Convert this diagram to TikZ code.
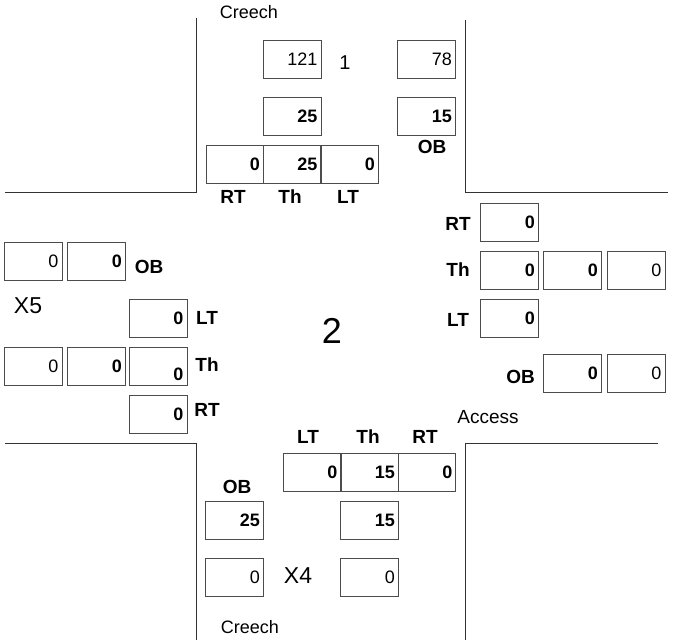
\documentclass[tikz,border=0pt]{standalone}
\usepackage{fontspec}
\setmainfont{Liberation Sans}
\usepackage{tikz}

\tikzset{
  cnt/.style={draw=black!70, line width=0.7pt, minimum width=58pt, minimum height=38pt,
    inner sep=0pt, text width=51pt, align=right, font=\fontsize{18}{18}\selectfont},
  bcnt/.style={cnt, font=\fontsize{18}{18}\selectfont\bfseries},
  lbl/.style={font=\fontsize{19}{19}\selectfont\bfseries},
  street/.style={font=\fontsize{18}{18}\selectfont},
  road/.style={draw=black!80, line width=0.7pt}
}

\begin{document}
\begin{tikzpicture}[x=1pt, y=-1pt]
  \useasboundingbox (0,0) rectangle (673,640);
  % road edges
  \draw[road] (196,18) -- (196,192) -- (5,192);
  \draw[road] (465,20) -- (465,192) -- (668,192);
  \draw[road] (5,443) -- (196,443) -- (196,640);
  \draw[road] (658,443) -- (465,443) -- (465,640);

  % north approach
  \node[street] (creechN) at (249,12) {Creech};
  \node[cnt] (nA) at (292,59) {121};
  \node[street, font=\fontsize{20}{20}\selectfont] (xN) at (345,63) {1};
  \node[cnt] (nB) at (426.5,59) {78};
  \node[bcnt] (nC) at (292,116.5) {25};
  \node[bcnt] (nD) at (426.5,116.5) {15};
  \node[lbl] (obN) at (432,147) {OB};
  \node[bcnt, minimum width=57pt] (nRT) at (234.5,164.5) {0};
  \node[bcnt, minimum width=57pt] (nTh) at (292,164.5) {25};
  \node[bcnt, minimum width=57pt] (nLT) at (349.5,164.5) {0};
  \node[lbl] at (233,197) {RT};
  \node[lbl] at (290,197) {Th};
  \node[lbl] at (348,197) {LT};

  % west approach
  \node[cnt] (wA) at (33,261) {0};
  \node[bcnt] (wB) at (96.5,261) {0};
  \node[lbl] (obW) at (149,267) {OB};
  \node[street, font=\fontsize{23}{23}\selectfont] (xW) at (28,306) {X5};
  \node[bcnt] (wLT) at (158,318) {0};
  \node[lbl] at (207,318) {LT};
  \node[cnt] (wC) at (33,366.5) {0};
  \node[bcnt] (wD) at (96.5,366.5) {0};
  \node[bcnt] (wTh) at (158,366.5) {\raisebox{-8pt}[\height][\depth]{0}};
  \node[lbl] at (207,365) {Th};
  \node[bcnt] (wRT) at (158,414) {0};
  \node[lbl] at (207,410) {RT};

  % centre
  \node[street, font=\fontsize{36}{36}\selectfont] (xC) at (332,331) {2};

  % east approach
  \node[lbl] at (458,224) {RT};
  \node[bcnt] (eRT) at (509.5,222.5) {0};
  \node[lbl] at (458,270) {Th};
  \node[bcnt] (eTh) at (509.5,270) {0};
  \node[bcnt] (eA) at (572.5,270) {0};
  \node[cnt] (eB) at (636,270) {0};
  \node[lbl] at (458,320) {LT};
  \node[bcnt] (eLT) at (509.5,318.5) {0};
  \node[lbl] (obE) at (520.5,377) {OB};
  \node[bcnt] (eC) at (572.5,373.5) {0};
  \node[cnt] (eD) at (636,373.5) {0};
  \node[street, font=\fontsize{19}{19}\selectfont] (access) at (488,417) {Access};

  % south approach
  \node[lbl] at (308,437) {LT};
  \node[lbl] at (368,437) {Th};
  \node[lbl] at (425,437) {RT};
  \node[bcnt, minimum width=57pt] (sLT) at (312,472) {0};
  \node[bcnt, minimum width=57pt] (sTh) at (369.5,472) {15};
  \node[bcnt, minimum width=57pt] (sRT) at (427,472) {0};
  \node[lbl] (obS) at (237,487) {OB};
  \node[bcnt] (sA) at (234.5,520) {25};
  \node[bcnt] (sB) at (369.5,520) {15};
  \node[cnt] (sC) at (234.5,577.5) {0};
  \node[street, font=\fontsize{23}{23}\selectfont] (xS) at (298,576) {X4};
  \node[cnt] (sD) at (369.5,577.5) {0};
  \node[street] (creechS) at (250,627) {Creech};
\end{tikzpicture}
\end{document}
